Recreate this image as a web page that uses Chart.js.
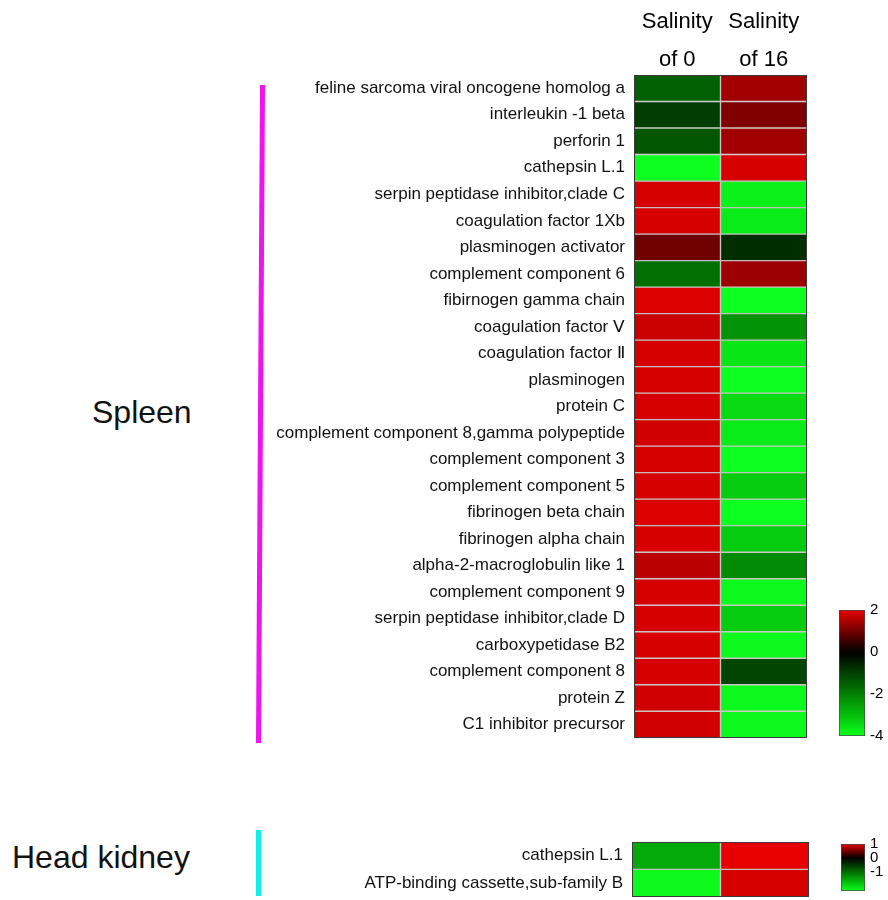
<!DOCTYPE html>
<html lang="en">
<head>
    <meta charset="UTF-8">
    <title>Immune gene heatmap</title>
    <script src="https://cdn.jsdelivr.net/npm/chart.js@4.4.1/dist/chart.umd.min.js"></script>
    <style>
        body { margin: 0; background: #fff; width: 888px; height: 900px; position: relative; overflow: hidden;
               font-family: "Liberation Sans", Arial, sans-serif; }
        canvas, .tissue, .bracket { position: absolute; }
        .tissue { font-size: 32px; line-height: 32px; color: #111; white-space: nowrap; }
    </style>
</head>
<body>
    <div class="tissue" style="left:92px; top:396px;">Spleen</div>
    <div class="tissue" style="left:12px; top:841px;">Head kidney</div>
    <div class="bracket" style="left:258px; top:85px; width:5px; height:658px; background:#ee14ee; transform:rotate(0.35deg);"></div>
    <div class="bracket" style="left:256px; top:830px; width:5px; height:66px; background:#14eeee;"></div>

    <canvas id="spleenMap" width="820" height="757" style="left:0; top:0;"></canvas>
    <canvas id="spleenBar" width="68" height="160" style="left:820px; top:590px;"></canvas>
    <canvas id="kidneyMap" width="820" height="96" style="left:0; top:820px;"></canvas>
    <canvas id="kidneyBar" width="68" height="75" style="left:820px; top:830px;"></canvas>

    <script>
        // column headers
        const columns = [['Salinity', 'of 0'], ['Salinity', 'of 16']];

        // spleen genes and log2 fold values
        const spleenGenes = [
            'feline sarcoma viral oncogene homolog a', 'interleukin -1 beta', 'perforin 1', 'cathepsin L.1',
            'serpin peptidase inhibitor,clade C', 'coagulation factor 1Xb', 'plasminogen activator',
            'complement component 6', 'fibirnogen gamma chain', 'coagulation factor Ⅴ', 'coagulation factor Ⅱ',
            'plasminogen', 'protein C', 'complement component 8,gamma polypeptide', 'complement component 3',
            'complement component 5', 'fibrinogen beta chain', 'fibrinogen alpha chain',
            'alpha-2-macroglobulin like 1', 'complement component 9', 'serpin peptidase inhibitor,clade D',
            'carboxypetidase B2', 'complement component 8', 'protein Z', 'C1 inhibitor precursor'
        ];
        const spleenSal0 = [-1.5, -0.95, -1.35, -4, 1.85, 1.85, 0.95, -1.75, 1.9, 1.75, 1.85, 1.85, 1.85,
                            1.8, 1.85, 1.85, 1.9, 1.85, 1.6, 1.85, 1.85, 1.85, 1.85, 1.8, 1.8];
        const spleenSal16 = [1.4, 1.1, 1.4, 1.85, -3.8, -3.7, -0.7, 1.35, -4, -2.3, -3.6, -4, -3.4,
                             -3.7, -4, -3.2, -4, -3.2, -2.2, -3.9, -3.2, -3.9, -1.1, -3.9, -3.9];
        const spleenRange = [-4, 2];
        const spleenTicks = [2, 0, -2, -4];

        // head kidney
        const kidneyGenes = ['cathepsin L.1', 'ATP-binding cassette,sub-family B'];
        const kidneySal0 = [-1.6, -2.35];
        const kidneySal16 = [1.0, 0.92];
        const kidneyRange = [-2.4, 1];
        const kidneyTicks = [1, 0, -1];

        Chart.defaults.font.family = '"Liberation Sans", Arial, sans-serif';
        Chart.defaults.color = '#111';

        // red - black - green colour ramp
        function heat(v, lo, hi) {
            if (v >= 0) {
                const t = Math.min(v / hi, 1);
                return `rgb(${Math.round(232 * t)},0,0)`;
            }
            const t = Math.min(v / lo, 1);
            return `rgb(${Math.round(12 * t ** 3)},${Math.round(255 * t)},${Math.round(30 * t ** 3)})`;
        }

        const frame = {
            id: 'frame',
            afterDatasetsDraw(chart) {
                const a = chart.chartArea, c = chart.ctx;
                c.save();
                c.strokeStyle = '#3a3a3a';
                c.lineWidth = 1;
                c.strokeRect(Math.round(a.left) + 0.5, Math.round(a.top) + 0.5, Math.round(a.right - a.left) - 1, Math.round(a.bottom - a.top) - 1);
                c.restore();
            }
        };

        const noGrid = { display: false, drawTicks: false };

        function heatmap(id, genes, sal0, sal16, range, opts) {
            const cell = (vals, col) => ({
                label: columns[col].join(' '),
                data: genes.map(() => [col, col + 1]),
                backgroundColor: vals.map(v => heat(v, range[0], range[1])),
                borderColor: 'rgba(170,160,160,0.55)',
                borderWidth: 1,
                borderSkipped: false,
                grouped: false,
                barPercentage: 1,
                categoryPercentage: 1
            });
            return new Chart(document.getElementById(id), {
                type: 'bar',
                data: { labels: genes, datasets: [cell(sal0, 0), cell(sal16, 1)] },
                plugins: [frame],
                options: {
                    indexAxis: 'y',
                    responsive: false,
                    animation: false,
                    devicePixelRatio: 1,
                    layout: { padding: opts.padding },
                    plugins: { legend: { display: false }, tooltip: { enabled: false } },
                    scales: {
                        x: {
                            type: 'linear', position: 'top', min: 0, max: 2,
                            display: opts.showHeader,
                            afterBuildTicks: s => { s.ticks = [{ value: 0.5 }, { value: 1.5 }]; },
                            afterFit: s => { s.height = opts.headerHeight; },
                            ticks: {
                                callback: (v, i) => columns[i],
                                font: { size: 22, lineHeight: 1.73 },
                                color: '#000',
                                padding: -4,
                                maxRotation: 0
                            },
                            grid: noGrid,
                            border: { display: false }
                        },
                        y: {
                            afterFit: s => { s.width = opts.labelWidth; },
                            ticks: { font: { size: opts.labelSize }, color: '#111', padding: 9, autoSkip: false },
                            grid: noGrid,
                            border: { display: false }
                        }
                    }
                }
            });
        }

        function colorBar(id, range, ticks, padding) {
            return new Chart(document.getElementById(id), {
                type: 'bar',
                data: {
                    labels: [''],
                    datasets: [{
                        data: [range],
                        backgroundColor: ctx => {
                            const ch = ctx.chart;
                            if (!ch.chartArea) return '#000';
                            const y = ch.scales.y;
                            const top = y.getPixelForValue(range[1]), bottom = y.getPixelForValue(range[0]);
                            const g = ch.ctx.createLinearGradient(0, top, 0, bottom);
                            for (let i = 0; i <= 20; i++) {
                                const v = range[1] - (range[1] - range[0]) * i / 20;
                                g.addColorStop(i / 20, heat(v, range[0], range[1]));
                            }
                            return g;
                        },
                        borderColor: '#4a4a4a',
                        borderWidth: 1,
                        borderSkipped: false,
                        barPercentage: 1,
                        categoryPercentage: 1
                    }]
                },
                options: {
                    responsive: false,
                    animation: false,
                    devicePixelRatio: 1,
                    layout: { padding: padding },
                    plugins: { legend: { display: false }, tooltip: { enabled: false } },
                    scales: {
                        x: { display: false },
                        y: {
                            position: 'right', min: range[0], max: range[1],
                            afterBuildTicks: s => { s.ticks = ticks.map(v => ({ value: v })); },
                            afterFit: s => { s.width = 23; },
                            ticks: { font: { size: 15 }, color: '#000', padding: 5, autoSkip: false },
                            grid: noGrid,
                            border: { display: false }
                        }
                    }
                }
            });
        }

        heatmap('spleenMap', spleenGenes, spleenSal0, spleenSal16, spleenRange,
            { padding: { right: 13, bottom: 8 }, showHeader: true, headerHeight: 75, labelWidth: 634, labelSize: 17 });
        heatmap('kidneyMap', kidneyGenes, kidneySal0, kidneySal16, kidneyRange,
            { padding: { top: 22, right: 11, bottom: 4 }, showHeader: false, headerHeight: 0, labelWidth: 632, labelSize: 17 });
        colorBar('spleenBar', spleenRange, spleenTicks, { left: 19, top: 20, bottom: 13 });
        colorBar('kidneyBar', kidneyRange, kidneyTicks, { left: 21, top: 13, bottom: 14 });
    </script>
</body>
</html>
